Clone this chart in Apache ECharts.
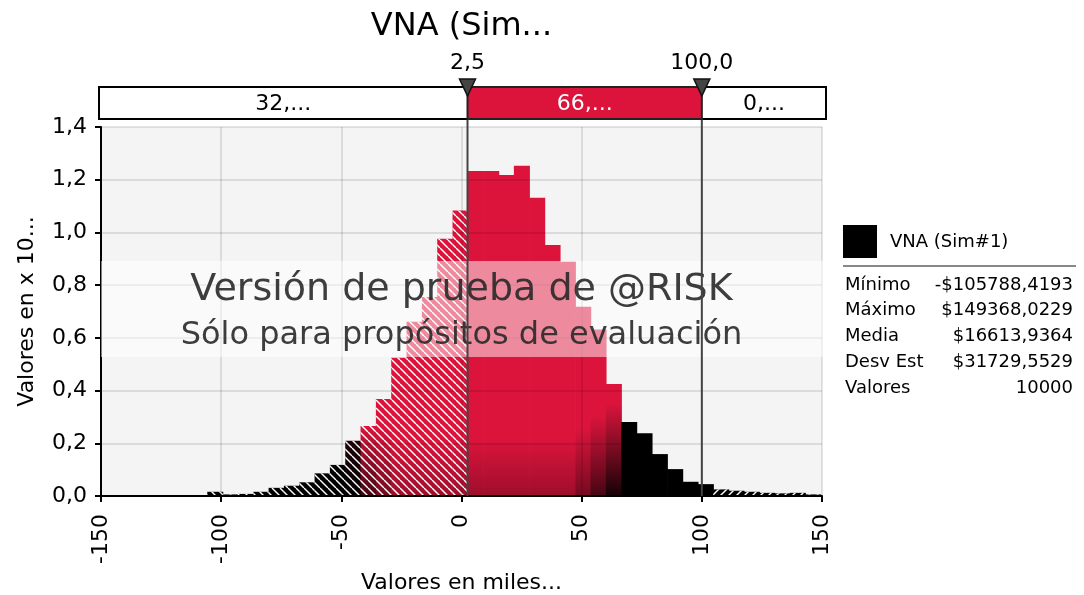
<!DOCTYPE html>
<html><head><meta charset="utf-8">
<script src="https://cdn.jsdelivr.net/npm/echarts@6/dist/echarts.min.js"></script>
<style>html,body{margin:0;padding:0;background:#fff}#c{width:1084px;height:595px}</style>
</head><body><div id="c"></div>
<script>
// ---- data ----
const titleText = 'VNA (Sim...';
const seriesName = 'VNA (Sim#1)';
const dataMin = -105.7884193;   // thousands
const dataMax = 149.3680229;    // thousands
const binCount = 40;
const density = [
  0.016, 0.006, 0.008, 0.016, 0.031, 0.039, 0.052, 0.086, 0.118, 0.210,
  0.266, 0.368, 0.525, 0.661, 0.755, 0.976, 1.083, 1.233, 1.233, 1.218,
  1.253, 1.132, 0.952, 0.889, 0.718, 0.632, 0.425, 0.281, 0.238, 0.159,
  0.102, 0.054, 0.045, 0.025, 0.020, 0.016, 0.012, 0.010, 0.012, 0.006
];
const xTicks = [-150, -100, -50, 0, 50, 100, 150];
const yTicks = [0, 0.2, 0.4, 0.6, 0.8, 1.0, 1.2, 1.4];
const delimiters = [2.5, 100.0];
const delimiterLabels = ['2,5', '100,0'];
const regionLabels = ['32,...', '66,...', '0,...'];
const statLabels = ['Mínimo', 'Máximo', 'Media', 'Desv Est', 'Valores'];
const statValues = ['-$105788,4193', '$149368,0229', '$16613,9364', '$31729,5529', '10000'];
const xAxisName = 'Valores en miles...';
const yAxisName = 'Valores en x 10...';
const watermark = ['Versión de prueba de @RISK', 'Sólo para propósitos de evaluación'];

// ---- styling helpers ----
const FONT = "'DejaVu Sans', Verdana, sans-serif";
const CRIMSON = [220, 20, 60];
const DARK = [158, 14, 44];
const BLACK = [0, 0, 0];
function mix(a, b, t) { t = Math.max(0, Math.min(1, t)); return a.map((v, i) => Math.round(v + (b[i] - v) * t)); }
function rgb(c) { return 'rgb(' + c.join(',') + ')'; }
function fillFor(center, v) {
  if (center < -48 || center > 67) return '#000';
  let top = CRIMSON, bottom = DARK, edge = 0;
  if (center < -42) { top = mix(BLACK, CRIMSON, 0.15); bottom = BLACK; edge = 1; }
  else if (center < -26) { edge = 1 - (center + 48) / 22; bottom = mix(DARK, BLACK, edge); }
  else if (center > 45) { edge = (center - 45) / 21; bottom = mix(DARK, BLACK, edge); }
  const darkH = 0.22 + 0.15 * edge;
  const o = Math.max(0, 1 - darkH / v);
  return new echarts.graphic.LinearGradient(0, 0, 0, 1, [
    { offset: 0, color: rgb(top) }, { offset: o, color: rgb(top) }, { offset: 1, color: rgb(bottom) }
  ]);
}
function makeHatch(dir) {
  const c = document.createElement('canvas'); c.width = 8; c.height = 8;
  const g = c.getContext('2d'); g.strokeStyle = '#fff'; g.lineWidth = 1.4;
  for (const o of [-8, 0, 8]) {
    g.beginPath();
    if (dir > 0) { g.moveTo(o, 0); g.lineTo(o + 8, 8); } else { g.moveTo(o + 8, 0); g.lineTo(o, 8); }
    g.stroke();
  }
  return c;
}
const hatchL = makeHatch(1), hatchR = makeHatch(-1);

const binWidth = (dataMax - dataMin) / binCount;
const bins = density.map((v, k) => [dataMin + k * binWidth, dataMin + (k + 1) * binWidth, v, k]);

const chart = echarts.init(document.getElementById('c'));
const fmt = v => (Math.round(v * 10) / 10).toFixed(1).replace('.', ',');

chart.setOption({
  animation: false,
  backgroundColor: '#fff',
  textStyle: { fontFamily: FONT },
  grid: { left: 101, right: 262, top: 127, bottom: 99, show: true, backgroundColor: '#f4f4f4', borderWidth: 0, outerBoundsMode: 'none', containLabel: false },
  xAxis: {
    type: 'value', min: xTicks[0], max: xTicks[xTicks.length - 1], interval: xTicks[1] - xTicks[0], z: 5,
    name: xAxisName, nameLocation: 'middle', nameGap: 74,
    nameTextStyle: { fontFamily: FONT, fontSize: 22, color: '#000' },
    axisLine: { show: true, onZero: false, lineStyle: { color: '#000', width: 2 } },
    axisTick: { show: true, length: 6, lineStyle: { color: '#000', width: 2 } },
    axisLabel: { rotate: 90, margin: 18, fontFamily: FONT, fontSize: 22, color: '#000' },
    splitLine: { show: true, lineStyle: { color: 'rgba(0,0,0,0.1)', width: 2 } }
  },
  yAxis: {
    type: 'value', min: yTicks[0], max: yTicks[yTicks.length - 1], interval: yTicks[1] - yTicks[0], z: 5,
    name: yAxisName, nameLocation: 'middle', nameGap: 63, nameRotate: 90,
    nameTextStyle: { fontFamily: FONT, fontSize: 22, color: '#000' },
    axisLine: { show: true, onZero: false, lineStyle: { color: '#000', width: 2 } },
    axisTick: { show: true, length: 6, lineStyle: { color: '#000', width: 2 } },
    axisLabel: { margin: 14, fontFamily: FONT, fontSize: 22, color: '#000', formatter: fmt },
    splitLine: { show: true, lineStyle: { color: 'rgba(0,0,0,0.1)', width: 2 } }
  },
  series: [{
    type: 'custom', name: seriesName, data: bins, encode: { x: [0, 1], y: 2 }, z: 2,
    renderItem: function (params, api) {
      const x0 = api.value(0), x1 = api.value(1), v = api.value(2);
      const p0 = api.coord([x0, v]), p1 = api.coord([x1, 0]);
      const shape = { x: p0[0], y: p0[1], width: p1[0] - p0[0] + 0.7, height: p1[1] - p0[1] };
      const children = [{ type: 'rect', shape: shape, style: { fill: fillFor((x0 + x1) / 2, v) } }];
      if (x0 < delimiters[0]) children.push({ type: 'rect', shape: shape, style: { fill: { image: hatchL, repeat: 'repeat' } } });
      else if (x0 >= delimiters[1]) children.push({ type: 'rect', shape: shape, style: { fill: { image: hatchR, repeat: 'repeat' } } });
      return { type: 'group', children: children };
    }
  }]
});

// ---- decorations positioned through the axes ----
const px = v => chart.convertToPixel({ xAxisIndex: 0 }, v);
const py = v => chart.convertToPixel({ yAxisIndex: 0 }, v);
const gL = px(xTicks[0]), gR = px(xTicks[xTicks.length - 1]);
const gT = py(yTicks[yTicks.length - 1]), gB = py(yTicks[0]);
const d0 = px(delimiters[0]), d1 = px(delimiters[1]);
const cx = (gL + gR) / 2;
const barL = gL - 2, barR = gR + 4, barT = gT - 40, barH = 32;

const g = [];
// watermark band + text
g.push({ type: 'rect', z: 10, shape: { x: gL, y: gT + 134, width: gR - gL + 3, height: 96 }, style: { fill: 'rgba(255,255,255,0.5)' } });
g.push({ type: 'text', z: 11, x: cx, y: gT + 163, style: { text: watermark[0], fill: 'rgba(40,40,40,0.9)', font: '38px ' + FONT, align: 'center', verticalAlign: 'middle' } });
g.push({ type: 'text', z: 11, x: cx, y: gT + 209, style: { text: watermark[1], fill: 'rgba(40,40,40,0.9)', font: '32px ' + FONT, align: 'center', verticalAlign: 'middle' } });
// delimiter lines
[d0, d1].forEach(d => g.push({ type: 'line', z: 12, shape: { x1: d, y1: barT, x2: d, y2: gB }, style: { stroke: '#444', lineWidth: 2 } }));
// top delimiter bar
g.push({ type: 'rect', z: 12, shape: { x: barL, y: barT, width: barR - barL, height: barH }, style: { fill: '#fff', stroke: '#000', lineWidth: 2 } });
g.push({ type: 'rect', z: 13, shape: { x: d0, y: barT, width: d1 - d0, height: barH }, style: { fill: rgb(CRIMSON), stroke: '#222', lineWidth: 2 } });
const segs = [[barL, d0, '#000'], [d0, d1, '#fff'], [d1, barR, '#000']];
segs.forEach((s, i) => g.push({ type: 'text', z: 14, x: (s[0] + s[1]) / 2, y: barT + barH / 2 + 1, style: { text: regionLabels[i], fill: s[2], font: '22px ' + FONT, align: 'center', verticalAlign: 'middle' } }));
[d0, d1].forEach((d, i) => {
  g.push({ type: 'polygon', z: 15, shape: { points: [[d - 8, barT - 8], [d + 8, barT - 8], [d, barT + 9]] }, style: { fill: '#444', stroke: '#111', lineWidth: 1.5 } });
  g.push({ type: 'text', z: 15, x: d, y: barT - 24, style: { text: delimiterLabels[i], fill: '#000', font: '22px ' + FONT, align: 'center', verticalAlign: 'middle' } });
});
// title
g.push({ type: 'text', z: 15, x: cx, y: 27, style: { text: titleText, fill: '#000', font: '32px ' + FONT, align: 'center', verticalAlign: 'middle' } });
// legend / stats
const lx = 843, lRight = 1074;
g.push({ type: 'rect', shape: { x: lx, y: 225, width: 34, height: 33 }, style: { fill: '#000' } });
g.push({ type: 'text', x: 890, y: 242, style: { text: seriesName, fill: '#000', font: '18px ' + FONT, verticalAlign: 'middle' } });
g.push({ type: 'line', shape: { x1: lx, y1: 266, x2: lRight + 2, y2: 266 }, style: { stroke: '#888', lineWidth: 2 } });
statLabels.forEach((s, i) => {
  const y = 285 + i * 25.8;
  g.push({ type: 'text', x: lx + 2, y: y, style: { text: s, fill: '#000', font: '18px ' + FONT, verticalAlign: 'middle' } });
  g.push({ type: 'text', x: lRight - 1, y: y, style: { text: statValues[i], fill: '#000', font: '18px ' + FONT, align: 'right', verticalAlign: 'middle' } });
});
chart.setOption({ graphic: g });
</script>
</body></html>
